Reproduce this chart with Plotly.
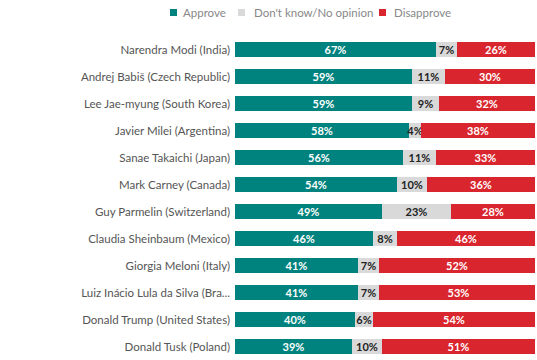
import plotly.graph_objects as go

leaders = [
    "Narendra Modi (India)",
    "Andrej Babiš (Czech Republic)",
    "Lee Jae-myung (South Korea)",
    "Javier Milei (Argentina)",
    "Sanae Takaichi (Japan)",
    "Mark Carney (Canada)",
    "Guy Parmelin (Switzerland)",
    "Claudia Sheinbaum (Mexico)",
    "Giorgia Meloni (Italy)",
    "Luiz Inácio Lula da Silva (Bra...",
    "Donald Trump (United States)",
    "Donald Tusk (Poland)",
]
approve = [67, 59, 59, 58, 56, 54, 49, 46, 41, 41, 40, 39]
dont_know = [7, 11, 9, 4, 11, 10, 23, 8, 7, 7, 6, 10]
disapprove = [26, 30, 32, 38, 33, 36, 28, 46, 52, 53, 54, 51]

series = [
    ("Approve", approve, "#00837e", "white"),
    ("Don't know/No opinion", dont_know, "#d9d9d9", "#222222"),
    ("Disapprove", disapprove, "#d9262e", "white"),
]

W, H = 537, 360
L, R, T, B = 235, 2, 36, 0
PW, PH = W - L - R, H - T - B


def px_x(p):
    return (p - L) / PW


def px_y(p):
    return (H - B - p) / PH


fig = go.Figure()
for name, vals, color, tcolor in series:
    fig.add_trace(go.Bar(
        y=leaders, x=vals, name=name, orientation="h",
        marker=dict(color=color, line=dict(width=0)),
        text=[f"{v}%" for v in vals],
        textposition="inside", insidetextanchor="middle",
        constraintext="none", textangle=0,
        textfont=dict(color=tcolor, size=11, family="Lato", weight="bold"),
        hoverinfo="skip", showlegend=False,
    ))

# custom legend (square + label) placed as in the reference
legend_pos = [(170, 181), (238, 252), (379, 392)]
for (name, _, color, _), (sq, tx) in zip(series, legend_pos):
    fig.add_shape(type="rect", xref="paper", yref="paper",
                  x0=px_x(sq), x1=px_x(sq + 7), y0=px_y(16), y1=px_y(9),
                  fillcolor=color, line=dict(width=0))
    fig.add_annotation(xref="paper", yref="paper", x=px_x(tx), y=px_y(12.5),
                       xanchor="left", yanchor="middle", text=name, showarrow=False,
                       font=dict(size=11.5, color="#888888", family="Lato"))

fig.update_layout(
    width=W, height=H,
    barmode="stack", bargap=0.44,
    margin=dict(l=L, r=R, t=T, b=B, autoexpand=False),
    paper_bgcolor="white", plot_bgcolor="white",
    font=dict(family="Lato", size=11, color="#555555"),
    showlegend=False,
)
fig.update_xaxes(range=[0, 100], visible=False, fixedrange=True)
fig.update_yaxes(autorange="reversed", showgrid=False, zeroline=False, showline=False,
                 automargin=False, fixedrange=True,
                 ticks="", ticklabelstandoff=4, tickfont=dict(size=11.5, color="#555555"))

fig.write_html("out.html", config={"displayModeBar": False},
               post_script="document.body.style.margin='0';")
